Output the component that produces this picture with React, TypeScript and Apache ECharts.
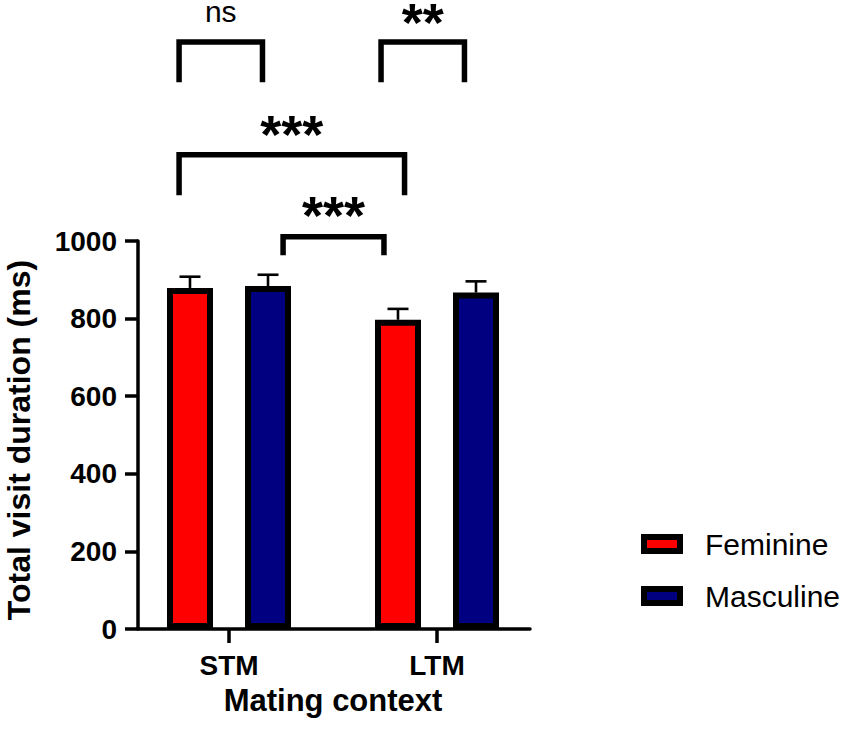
import React, { useEffect, useRef } from "react";
import * as echarts from "echarts";

const categories = ["STM", "LTM"];
const seriesNames = ["Feminine", "Masculine"];
const feminineMean = [879, 797];
const feminineUpper = [908, 825];
const masculineMean = [884, 867];
const masculineUpper = [913, 896];
const yMin = 0;
const yMax = 1000;
const yInterval = 200;

// significance brackets: [category, fraction of band] endpoints, values in axis units
const bracketLabels = ["ns", "**", "***", "***"];
const bracketStart = [[0, -0.24], [1, -0.269], [0, -0.24], [0, 0.26]];
const bracketEnd = [[0, 0.161], [1, 0.132], [1, -0.156], [1, -0.255]];
const bracketTop = [1513, 1513, 1222, 1011];
const bracketLegEnd = [1409, 1409, 1118, 963];
const bracketLabelY = [1591, 1565, 1276, 1068];

const FONT = "'Liberation Sans', Arial, Helvetica, sans-serif";
const BAR_W = 46;
const BAR_GAP = 0.696;
const BORDER = 6;
const COLORS = ["#ff0000", "#000080"];

export default function App() {
  const ref = useRef<HTMLDivElement>(null);
  useEffect(() => {
    if (!ref.current) return;
    const chart = echarts.init(ref.current, undefined, { renderer: "svg" });
    const offset = (BAR_W * (1 + BAR_GAP)) / 2;

    const errorSeries = (idx: number, mean: number[], upper: number[]) => ({
      type: "custom",
      xAxisIndex: 0,
      yAxisIndex: 0,
      z: 5,
      silent: true,
      clip: false,
      data: categories.map((_, i) => [i, upper[i], mean[i]]),
      renderItem: (params: any, api: any) => {
        const cat = api.value(0);
        const top = api.coord([cat, api.value(1)]);
        const base = api.coord([cat, api.value(2)]);
        const x = top[0] + (idx === 0 ? -offset : offset);
        const half = 10.5;
        const st = { stroke: "#000", lineWidth: 2.6, fill: null };
        return {
          type: "group",
          children: [
            { type: "line", shape: { x1: x, y1: base[1], x2: x, y2: top[1] }, style: st },
            { type: "line", shape: { x1: x - half, y1: top[1], x2: x + half, y2: top[1] }, style: st },
          ],
        };
      },
    });

    const option: any = {
      animation: false,
      backgroundColor: "#ffffff",
      textStyle: { fontFamily: FONT },
      grid: [
        { left: 125, width: 416, top: 241, height: 388 },
        { left: 138, width: 392, top: 241, height: 388 },
      ],
      legend: {
        data: seriesNames,
        orient: "vertical",
        left: 641,
        top: 529,
        padding: 0,
        itemWidth: 36,
        itemHeight: 14,
        itemGap: 22,
        icon: "rect",
        itemStyle: { borderColor: "#000", borderWidth: BORDER },
        textStyle: {
          fontFamily: FONT,
          fontSize: 30,
          lineHeight: 30,
          color: "#000",
          padding: [0, 0, 0, 20],
        },
      },
      xAxis: [
        {
          type: "category",
          gridIndex: 0,
          data: categories,
          axisLine: { show: false },
          axisTick: { show: true, alignWithLabel: true, length: 14, lineStyle: { color: "#000", width: 3.5 } },
          axisLabel: { color: "#000", fontSize: 28, fontWeight: "bold", fontFamily: FONT, margin: 22 },
          name: "Mating context",
          nameLocation: "middle",
          nameGap: 56,
          nameTextStyle: { color: "#000", fontSize: 31, fontWeight: "bold", fontFamily: FONT },
        },
        {
          type: "value",
          gridIndex: 1,
          min: 0,
          max: 1,
          axisLine: { show: true, lineStyle: { color: "#000", width: 3.5 } },
          axisTick: { show: false },
          axisLabel: { show: false },
          splitLine: { show: false },
        },
      ],
      yAxis: [
        { type: "value", gridIndex: 0, min: yMin, max: yMax, interval: yInterval, show: false },
        {
          type: "value",
          gridIndex: 1,
          min: yMin,
          max: yMax,
          interval: yInterval,
          axisLine: { show: true, lineStyle: { color: "#000", width: 3.5 } },
          axisTick: { show: true, length: 13, lineStyle: { color: "#000", width: 3.5 } },
          axisLabel: {
            color: "#000",
            fontSize: 28,
            fontWeight: "bold",
            fontFamily: FONT,
            margin: 21,
            formatter: (v: number) => String(v),
          },
          splitLine: { show: false },
          name: "Total visit duration (ms)",
          nameLocation: "middle",
          nameGap: 103,
          nameTextStyle: {
            color: "#000",
            fontSize: 32,
            fontWeight: "bold",
            fontFamily: FONT,
            padding: [0, 10, 0, 0],
          },
        },
      ],
      series: [
        {
          name: seriesNames[0],
          type: "bar",
          xAxisIndex: 0,
          yAxisIndex: 0,
          data: feminineMean,
          barWidth: BAR_W,
          barGap: `${BAR_GAP * 100}%`,
          itemStyle: { color: COLORS[0], borderColor: "#000", borderWidth: BORDER },
        },
        {
          name: seriesNames[1],
          type: "bar",
          xAxisIndex: 0,
          yAxisIndex: 0,
          data: masculineMean,
          barWidth: BAR_W,
          barGap: `${BAR_GAP * 100}%`,
          itemStyle: { color: COLORS[1], borderColor: "#000", borderWidth: BORDER },
        },
        errorSeries(0, feminineMean, feminineUpper),
        errorSeries(1, masculineMean, masculineUpper),
        {
          type: "custom",
          xAxisIndex: 0,
          yAxisIndex: 0,
          silent: true,
          clip: false,
          z: 6,
          data: bracketLabels.map((_, i) => [bracketStart[i][0], bracketTop[i]]),
          renderItem: (params: any, api: any) => {
            const i = params.dataIndex;
            const band = api.size([1, 0])[0];
            const px = (p: number[], v: number) => {
              const c = api.coord([p[0], v]);
              return [c[0] + p[1] * band, c[1]];
            };
            const a = px(bracketStart[i], bracketLegEnd[i]);
            const b = px(bracketStart[i], bracketTop[i]);
            const c = px(bracketEnd[i], bracketTop[i]);
            const d = px(bracketEnd[i], bracketLegEnd[i]);
            const ly = api.coord([0, bracketLabelY[i]])[1];
            const isNs = bracketLabels[i] === "ns";
            return {
              type: "group",
              children: [
                {
                  type: "polyline",
                  shape: { points: [a, b, c, d] },
                  style: { stroke: "#000", lineWidth: 5.5, fill: null, lineJoin: "miter", lineCap: "butt" },
                },
                {
                  type: "text",
                  x: (b[0] + c[0]) / 2,
                  y: ly,
                  style: {
                    text: bracketLabels[i],
                    fill: "#000",
                    fontFamily: FONT,
                    fontSize: isNs ? 30 : 54,
                    fontWeight: isNs ? "normal" : "bold",
                    align: "center",
                    verticalAlign: "middle",
                  },
                },
              ],
            };
          },
        },
      ],
    };
    chart.setOption(option);
    return () => chart.dispose();
  }, []);
  return (
    <div
      ref={ref}
      style={{ position: "fixed", left: 0, top: 0, width: 850, height: 737, background: "#fff" }}
    />
  );
}
